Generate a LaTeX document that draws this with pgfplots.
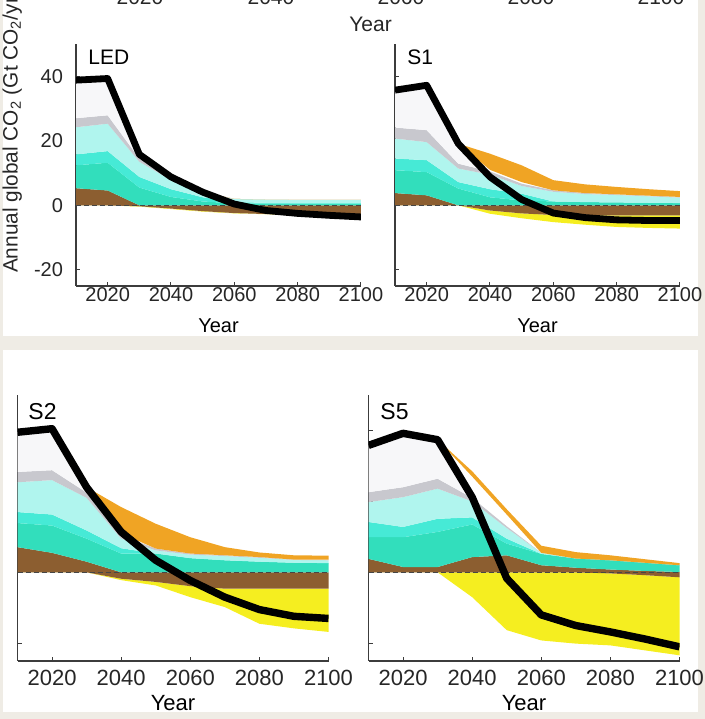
\documentclass[border=0pt]{standalone}
\usepackage{fontspec}
\setmainfont{Liberation Sans}
\usepackage{pgfplots}
\pgfplotsset{compat=1.18}
\usepackage{pgfplotstable}
\usepgfplotslibrary{fillbetween}

\definecolor{bgc}{RGB}{239,236,229}
\definecolor{axc}{RGB}{60,60,60}
\definecolor{zc}{RGB}{70,70,70}
\definecolor{brc}{RGB}{140,94,48}
\definecolor{tac}{RGB}{50,222,188}
\definecolor{tbc}{RGB}{70,234,214}
\definecolor{cyc}{RGB}{176,245,238}
\definecolor{grc}{RGB}{200,200,206}
\definecolor{whc}{RGB}{247,247,249}
\definecolor{orc}{RGB}{240,164,36}
\definecolor{yelc}{RGB}{245,238,32}

% columns: year, brown top, dark teal top, mid teal top, light cyan top, grey top,
% pale top, orange bottom, orange top, brown bottom, yellow bottom, net (black)
\pgfplotstableread{
yr   br  t1   t2   cy   gr   wh   ob   ot   bb   yb    bk
2010 5.3 12.4 15.8 24.2 27.0 38.8 38.8 38.8 0    0     38.8
2020 4.6 13.2 16.8 25.3 27.9 39.3 39.3 39.3 0    0     39.3
2030 0.0 5.5  8.8  13.5 14.5 15.8 15.8 15.8 -0.3 -0.4  15.8
2040 0.0 2.6  5.0  7.8  8.3  8.8  8.8  8.8  -1.0 -1.15 8.8
2050 0.0 1.2  2.5  3.6  4.2  4.2  4.2  4.2  -1.8 -1.95 4.1
2060 0.0 0.6  1.0  2.0  2.0  2.0  2.0  2.0  -2.4 -2.5  0.4
2070 0.0 0.5  0.8  1.8  1.8  1.8  1.8  1.8  -2.7 -2.75 -1.6
2080 0.0 0.5  0.7  1.7  1.7  1.7  1.7  1.7  -2.8 -2.85 -2.5
2090 0.0 0.5  0.7  1.7  1.7  1.7  1.7  1.7  -2.9 -2.95 -3.1
2100 0.0 0.5  0.7  1.7  1.7  1.7  1.7  1.7  -3.0 -3.05 -3.6
}\ledT

\pgfplotstableread{
yr   br  t1   t2   cy   gr   wh   ob   ot   bb   yb   bk
2010 3.8 10.9 14.5 20.7 24.1 35.7 35.7 35.7 0    0    35.7
2020 3.1 10.3 14.0 19.6 23.3 37.2 37.2 37.2 0    0    37.2
2030 0.0 5.2  7.2  11.4 12.9 19.1 19.1 19.1 0    0    19.1
2040 0.0 2.5  5.0  9.5  10.5 10.5 11.0 16.0 -1.6 -2.6 8.8
2050 0.0 1.5  3.6  6.0  6.7  6.7  7.2  12.4 -2.5 -4.0 1.8
2060 0.0 1.2  1.2  4.2  4.65 4.65 4.65 7.8  -3.0 -5.2 -2.4
2070 0.0 1.0  1.0  3.5  3.8  3.8  3.8  6.5  -3.1 -6.0 -3.8
2080 0.0 0.9  0.9  3.2  3.4  3.4  3.4  5.7  -3.1 -6.7 -4.5
2090 0.0 0.8  0.8  2.8  3.0  3.0  3.0  5.0  -3.1 -7.0 -4.7
2100 0.0 0.7  0.7  2.4  2.6  2.6  2.6  4.4  -3.1 -7.2 -4.7
}\soneT

\pgfplotstableread{
yr   br  t1   t2   cy   gr   wh   ob   ot   bb   yb    bk
2010 7.1 13.9 17.0 25.4 28.3 39.5 39.5 39.5 0    0     39.5
2020 5.5 13.2 16.3 26.0 28.8 40.5 40.5 40.5 0    0     40.5
2030 3.0 9.5  11.8 21.0 22.5 24.0 24.0 24.0 0    0     24.0
2040 0.0 5.3  6.8  9.5  10.5 10.5 11.0 18.4 -1.8 -2.2  11.4
2050 0.0 5.3  5.3  6.2  6.7  6.7  6.7  13.7 -2.7 -3.7  3.4
2060 0.0 4.0  4.0  5.0  5.3  5.3  5.3  9.9  -3.9 -7.0  -2.3
2070 0.0 3.4  3.4  4.6  4.8  4.8  4.8  7.1  -4.6 -9.8  -7.0
2080 0.0 3.0  3.0  4.1  4.3  4.3  4.3  5.6  -4.6 -14.5 -10.5
2090 0.0 2.7  2.7  3.5  3.6  3.6  3.6  4.8  -4.6 -15.8 -12.4
2100 0.0 2.6  2.6  3.4  3.6  3.6  3.6  4.7  -4.6 -16.8 -13.0
}\stwoT

\pgfplotstableread{
yr   br  t1   t2   cy   gr   wh   ob   ot   bb   yb    bk
2010 3.8 9.9  14.2 19.8 22.6 35.8 35.8 35.8 0    0     35.8
2020 1.5 9.9  12.8 21.2 24.0 39.2 39.2 39.2 0    0     39.2
2030 1.5 11.4 15.1 23.6 26.4 37.4 37.4 37.4 0    0     37.4
2040 4.3 13.5 15.5 20.0 21.0 21.2 27.0 28.5 0    -7.0  21.2
2050 4.8 8.1  9.5  12.5 13.0 13.0 16.3 17.8 0    -16.3 -1.7
2060 2.0 5.2  5.2  5.5  5.5  5.5  5.5  7.5  0    -19.2 -12.0
2070 1.3 3.9  3.9  3.9  3.9  3.9  3.9  5.7  0    -20.1 -15.0
2080 0.8 3.4  3.4  3.4  3.4  3.4  3.4  4.8  -0.3 -20.6 -16.8
2090 0.4 2.7  2.7  2.7  2.7  2.7  2.7  3.7  -0.8 -22.0 -18.8
2100 0.1 2.0  2.0  2.0  2.0  2.0  2.0  2.6  -1.4 -23.4 -21.0
}\sfiveT

\newcommand{\drawpanel}[4]{%
\addplot[draw=none,name path=#4br] table[x=yr,y=br]{#1};
\addplot[draw=none,name path=#4ta] table[x=yr,y=t1]{#1};
\addplot[draw=none,name path=#4tb] table[x=yr,y=t2]{#1};
\addplot[draw=none,name path=#4cy] table[x=yr,y=cy]{#1};
\addplot[draw=none,name path=#4gr] table[x=yr,y=gr]{#1};
\addplot[draw=none,name path=#4wh] table[x=yr,y=wh]{#1};
\addplot[draw=none,name path=#4ob] table[x=yr,y=ob]{#1};
\addplot[draw=none,name path=#4ot] table[x=yr,y=ot]{#1};
\addplot[draw=none,name path=#4bb] table[x=yr,y=bb]{#1};
\addplot[draw=none,name path=#4yb] table[x=yr,y=yb]{#1};
\addplot[fill=yelc,draw=none] fill between[of=#4bb and #4yb];
\addplot[fill=brc,draw=none] fill between[of=#4br and #4bb];
\addplot[fill=tac,draw=none] fill between[of=#4ta and #4br];
\addplot[fill=tbc,draw=none] fill between[of=#4tb and #4ta];
\addplot[fill=cyc,draw=none] fill between[of=#4cy and #4tb];
\addplot[fill=grc,draw=none] fill between[of=#4gr and #4cy];
\addplot[fill=whc,draw=none] fill between[of=#4wh and #4gr, soft clip={domain=2010:#3}];
\addplot[fill=orc,draw=none] fill between[of=#4ot and #4ob, soft clip={domain=2030:2100}];
\addplot[draw=zc, dash pattern=on 2.5pt off 1.5pt, line width=0.5pt] coordinates {(2010,0) (2100,0)};
\addplot[draw=black, line width=#2, line join=round] table[x=yr,y=bk]{#1};
}

\pgfplotsset{
  panel/.style={
    scale only axis, anchor=south west,
    xmin=2010, xmax=2100, ymin=-25, ymax=50,
    axis x line*=bottom, axis y line*=left,
    axis line style={-, draw=axc, line width=0.6pt},
    xtick={2020,2040,2060,2080,2100},
    xticklabels={2020,2040,2060,2080,2100},
    ytick={-20,0,20,40},
    tick align=inside, major tick length=2pt,
    tick style={draw=axc, line width=0.5pt},
    xlabel={Year},
  },
  toprow/.style={
    panel, width=142.5pt, height=121pt,
    tick label style={font=\fontsize{10}{12}\selectfont, text=black!85},
    xticklabel style={anchor=base, yshift=-8pt},
    xlabel style={font=\fontsize{10}{12}\selectfont, at={(axis description cs:0.5,0)}, anchor=base, yshift=-23.5pt},
  },
  botrow/.style={
    panel, width=155.5pt, height=133pt,
    tick label style={font=\fontsize{11}{13}\selectfont, text=black!85},
    xticklabel style={anchor=base, yshift=-12.5pt},
    xlabel style={font=\fontsize{11}{13}\selectfont, at={(axis description cs:0.5,0)}, anchor=base, yshift=-24.5pt},
    yticklabels={},
  },
}

\begin{document}
\begin{tikzpicture}
% beige frame and gap around the two white boxes
\fill[bgc] (0,0) rectangle (1.5pt,359.5pt);
\fill[bgc] (349pt,0) rectangle (352.5pt,359.5pt);
\fill[bgc] (0,184.5pt) rectangle (352.5pt,191.5pt);
\fill[bgc] (0,0) rectangle (352.5pt,3.5pt);

% remains of the panel above (cut by the page edge)
\foreach \xx/\lab in {70/2020,135.5/2040,200.5/2060,265.5/2080,330.5/2100}
  \node[anchor=base, font=\fontsize{10.5}{12}\selectfont, text=black!85] at (\xx pt,357pt) {\lab};
\node[anchor=base, font=\fontsize{10.5}{12}\selectfont, text=black!85] at (185.3pt,343.5pt) {Year};

\begin{axis}[toprow, at={(38pt,216.5pt)},
  yticklabels={-20,0,20,40},
  yticklabel style={anchor=east, xshift=-3pt}]
\drawpanel{\ledT}{3.4pt}{2100}{a}
\node[anchor=west, inner sep=0pt, font=\fontsize{10.5}{12}\selectfont] at (rel axis cs:0.042,0.946) {LED};
\end{axis}

\begin{axis}[toprow, at={(197.5pt,216.5pt)}, yticklabels={}]
\drawpanel{\soneT}{3.4pt}{2040}{b}
\node[anchor=west, inner sep=0pt, font=\fontsize{10.5}{12}\selectfont] at (rel axis cs:0.042,0.946) {S1};
\end{axis}

\begin{axis}[botrow, at={(8.75pt,29pt)}]
\drawpanel{\stwoT}{3.7pt}{2040}{c}
\node[anchor=west, inner sep=0pt, font=\fontsize{11.5}{13}\selectfont] at (rel axis cs:0.034,0.938) {S2};
\end{axis}

\begin{axis}[botrow, at={(184.25pt,29pt)}]
\drawpanel{\sfiveT}{3.7pt}{2040}{d}
\node[anchor=west, inner sep=0pt, font=\fontsize{11.5}{13}\selectfont] at (rel axis cs:0.037,0.938) {S5};
\end{axis}

\node[rotate=90, anchor=base west, font=\fontsize{10.4}{12}\selectfont, text=black!85]
  at (8.75pt,219.5pt) {Annual global CO\textsubscript{2} (Gt CO\textsubscript{2}/yr)};

\pgfresetboundingbox
\useasboundingbox (0,0) rectangle (352.5pt,359.5pt);
\end{tikzpicture}
\end{document}
